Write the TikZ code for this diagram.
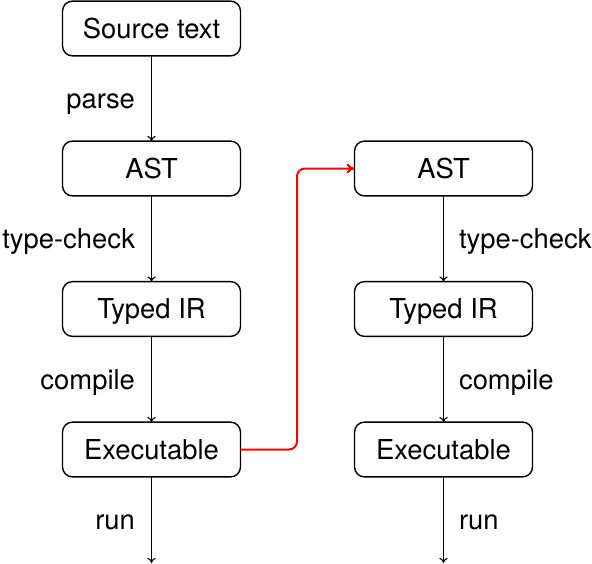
\documentclass[tikz,border=0pt]{standalone}
\usepackage{fontspec}
\setmainfont{TeX Gyre Heros}
\usetikzlibrary{arrows.meta}
\begin{document}
\begin{tikzpicture}[x=0.5pt,y=-0.5pt,
  stage/.style={draw, rounded corners=5pt, line width=0.7pt,
    minimum width=89pt, minimum height=27.4pt, inner sep=0pt, outer sep=0pt,
    text height=9.8pt, text depth=0pt,
    font=\fontsize{13.7}{16}\selectfont},
  flow/.style={line width=0.55pt, -{To[length=2.6pt,width=4.2pt]}},
  lbl/.style={font=\fontsize{13.7}{16}\selectfont, inner sep=0pt,
    text height=9.8pt, text depth=0pt},
  jump/.style={red, line width=1pt, rounded corners=4pt, -{To[length=4pt,width=5pt]}}]
  \useasboundingbox (0,0) rectangle (592,563);

  % left pipeline
  \node[stage] (src) at (151.5,28.5) {Source text};
  \node[stage] (ast1) at (151.5,168.5) {AST};
  \node[stage] (tir1) at (151.5,309) {Typed IR};
  \node[stage] (exe1) at (151.5,449.5) {Executable};
  \coordinate (end1) at (151.5,563);

  % right pipeline
  \node[stage] (ast2) at (443.5,168.5) {AST};
  \node[stage] (tir2) at (443.5,309) {Typed IR};
  \node[stage] (exe2) at (443.5,449.5) {Executable};
  \coordinate (end2) at (443.5,563);

  \draw[flow] (src) -- node[lbl, anchor=east, xshift=-8pt] {parse} (ast1);
  \draw[flow] (ast1) -- node[lbl, anchor=east, xshift=-8pt] {type-check} (tir1);
  \draw[flow] (tir1) -- node[lbl, anchor=east, xshift=-8pt] {compile} (exe1);
  \draw[flow] (exe1) -- node[lbl, anchor=east, xshift=-8pt] {run} (end1);

  \draw[flow] (ast2) -- node[lbl, anchor=west, xshift=7.5pt] {type-check} (tir2);
  \draw[flow] (tir2) -- node[lbl, anchor=west, xshift=7.5pt] {compile} (exe2);
  \draw[flow] (exe2) -- node[lbl, anchor=west, xshift=7.5pt] {run} (end2);

  % hand-over from the first executable to the second pipeline
  \draw[jump] (exe1.east) -| (297,168.5) -- (ast2.west);
\end{tikzpicture}
\end{document}
